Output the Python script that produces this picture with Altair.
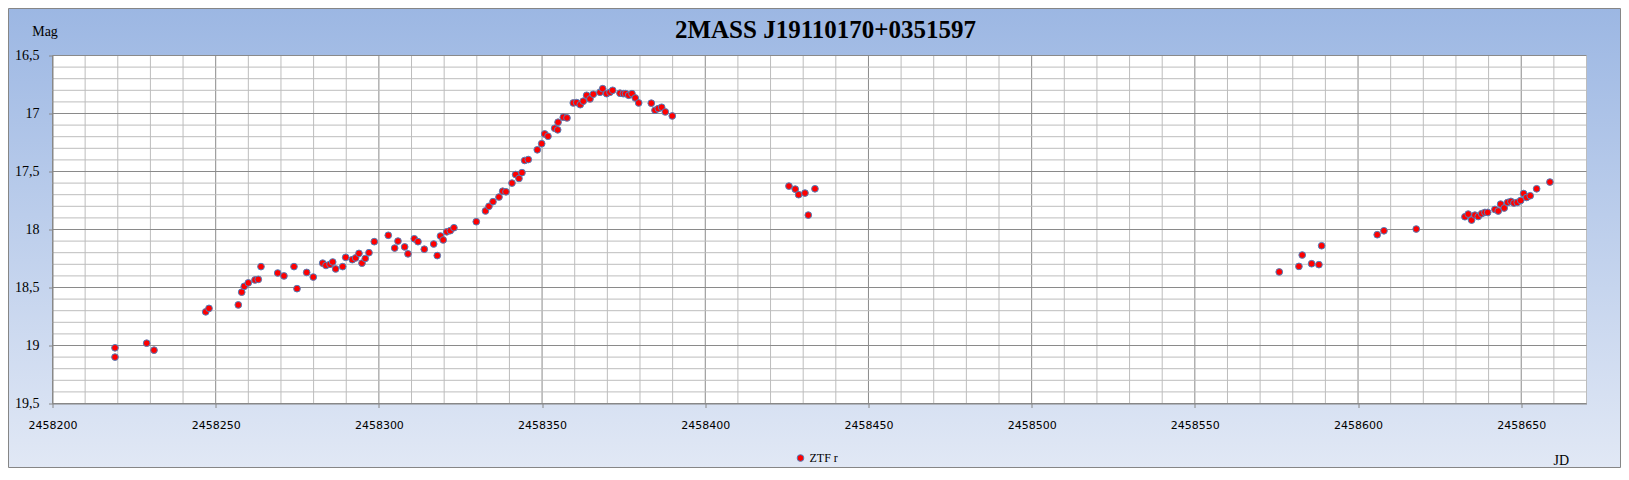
import altair as alt
import pandas as pd

TITLE = "2MASS J19110170+0351597"
SERIES = "ZTF r"
Y_TITLE = "Mag"
X_TITLE = "JD"

JD = [
    2458219.15, 2458219.15, 2458228.86, 2458231.10, 2458246.94, 2458247.95,
    2458256.92, 2458257.97, 2458258.76, 2458259.99, 2458262.04, 2458263.05,
    2458263.88, 2458269.00, 2458270.92, 2458273.99, 2458274.91, 2458277.88,
    2458279.90, 2458282.78, 2458283.79, 2458285.02, 2458285.85, 2458286.76,
    2458288.91, 2458289.83, 2458291.85, 2458292.89, 2458293.90, 2458294.82,
    2458295.83, 2458296.97, 2458298.59, 2458302.88, 2458304.84, 2458305.85,
    2458307.90, 2458308.92, 2458310.85, 2458311.98, 2458313.91, 2458316.79,
    2458317.89, 2458318.87, 2458319.70, 2458320.80, 2458321.88, 2458323.00,
    2458329.84, 2458332.66, 2458333.73, 2458334.96, 2458336.80, 2458337.93,
    2458338.94, 2458340.78, 2458341.91, 2458342.92, 2458343.84, 2458344.67,
    2458345.77, 2458348.53, 2458349.88, 2458350.80, 2458351.81, 2458353.86,
    2458354.78, 2458354.90, 2458356.50, 2458357.63, 2458359.56, 2458360.60,
    2458361.70, 2458362.62, 2458363.66, 2458364.68, 2458365.69, 2458367.74,
    2458368.57, 2458369.79, 2458370.80, 2458371.63, 2458373.87, 2458374.88,
    2458375.61, 2458376.53, 2458377.54, 2458378.55, 2458379.60, 2458383.46,
    2458384.59, 2458385.60, 2458386.64, 2458387.75, 2458389.89,
    2458425.64, 2458427.57, 2458428.61, 2458430.55, 2458433.61, 2458431.56,
    2458575.86, 2458581.89, 2458582.90, 2458585.78, 2458588.02, 2458588.85,
    2458605.88, 2458607.94, 2458617.83,
    2458632.75, 2458633.76, 2458634.80, 2458635.81, 2458636.83, 2458637.87,
    2458638.88, 2458639.71, 2458641.94, 2458642.95, 2458643.69, 2458644.79,
    2458645.83, 2458646.84, 2458647.76, 2458648.77, 2458649.82, 2458650.74,
    2458651.65, 2458652.76, 2458654.72, 2458658.79,
]
MAG = [
    19.02, 19.10, 18.98, 19.04, 18.71, 18.68,
    18.65, 18.54, 18.49, 18.46, 18.435, 18.43,
    18.32, 18.375, 18.40, 18.32, 18.51, 18.37,
    18.41, 18.29, 18.31, 18.30, 18.28, 18.34,
    18.32, 18.24, 18.26, 18.245, 18.206, 18.29,
    18.25, 18.20, 18.105, 18.05, 18.16, 18.10,
    18.15, 18.21, 18.08, 18.105, 18.17, 18.125,
    18.225, 18.056, 18.09, 18.02, 18.01, 17.985,
    17.933, 17.84, 17.80, 17.76, 17.72, 17.67,
    17.675, 17.60, 17.526, 17.56, 17.51, 17.405,
    17.397, 17.313, 17.26, 17.176, 17.196, 17.127,
    17.141, 17.075, 17.032, 17.038, 16.909, 16.906,
    16.924, 16.894, 16.843, 16.874, 16.834, 16.817,
    16.786, 16.829, 16.817, 16.80, 16.825, 16.829,
    16.829, 16.843, 16.829, 16.866, 16.909, 16.911,
    16.972, 16.958, 16.946, 16.986, 17.021,
    17.626, 17.652, 17.70, 17.686, 17.649, 17.876,
    18.366, 18.318, 18.22, 18.295, 18.303, 18.14,
    18.045, 18.011, 17.996,
    17.89, 17.867, 17.919, 17.876, 17.888, 17.864,
    17.853, 17.853, 17.827, 17.841, 17.781, 17.815,
    17.767, 17.758, 17.772, 17.767, 17.75, 17.69,
    17.724, 17.709, 17.649, 17.591,
]

X_MINOR = list(range(2458200, 2458671, 10))
X_MAJOR = list(range(2458200, 2458651, 50))
Y_MINOR = [round(16.5 + 0.1 * i, 1) for i in range(31)]
Y_MAJOR = [16.5, 17.0, 17.5, 18.0, 18.5, 19.0, 19.5]

W, H = 1534, 348
PAD = {"left": 44.5, "top": 47.5, "right": 34.5, "bottom": 64.5}

xscale = alt.Scale(domain=[2458200, 2458670], nice=False, zero=False)
yscale = alt.Scale(domain=[16.5, 19.5], reverse=True, nice=False, zero=False)

xaxis = alt.Axis(
    values=X_MAJOR, grid=False, format="d", zindex=1,
    domainColor="#868686", tickColor="#868686", tickSize=4,
    labelFont="DejaVu Sans", labelFontSize=11, labelColor="#000000",
    labelBaseline="alphabetic", labelPadding=20.8, labelOverlap=False, labelFlush=False,
    title=X_TITLE, titleFont="Liberation Serif", titleFontSize=14, titleFontWeight="normal",
    titleColor="#000000", titleAlign="left", titleBaseline="alphabetic", titleAnchor="start",
    titleX=1500.5, titleY=60.5,
)
yaxis = alt.Axis(
    values=Y_MAJOR, grid=False, zindex=1,
    labelExpr="replace(format(datum.value, '~g'), '.', ',')",
    domainColor="#868686", tickColor="#868686", tickSize=4,
    labelFont="Liberation Serif", labelFontSize=14, labelColor="#000000",
    labelPadding=9.5, labelOverlap=False, labelFlush=False,
    title=Y_TITLE, titleFont="Liberation Serif", titleFontSize=14, titleFontWeight="normal",
    titleColor="#000000", titleAngle=0, titleAlign="left", titleBaseline="alphabetic",
    titleX=-20.8, titleY=-20.5,
)

one = pd.DataFrame({"a": [0]})

bg = alt.Chart(one).mark_rect(
    fill=alt.Gradient(
        gradient="linear", x1=0, x2=0, y1=0, y2=1,
        stops=[alt.GradientStop(color="#9CB7E3", offset=0),
               alt.GradientStop(color="#E1E8F5", offset=1)],
    ),
    stroke="#868686", strokeWidth=1,
).encode(
    x=alt.value(-PAD["left"] + 0.5), x2=alt.value(W + PAD["right"] - 0.5),
    y=alt.value(-PAD["top"] + 0.5), y2=alt.value(H + PAD["bottom"] - 0.5),
)

plot_bg = alt.Chart(one).mark_rect(fill="white").encode(
    x=alt.value(0), x2=alt.value(W), y=alt.value(0), y2=alt.value(H)
)

xg_minor = alt.Chart(pd.DataFrame({"JD": [v for v in X_MINOR if v % 50]})).mark_rule(
    color="#BDBDBD", strokeWidth=1
).encode(x=alt.X("JD:Q", scale=xscale, axis=xaxis))
xg_major = alt.Chart(pd.DataFrame({"JD": X_MAJOR})).mark_rule(
    color="#8A8A8A", strokeWidth=1
).encode(x=alt.X("JD:Q", scale=xscale, axis=xaxis))
yg_minor = alt.Chart(pd.DataFrame({"Mag": [v for v in Y_MINOR if v not in Y_MAJOR]})).mark_rule(
    color="#BDBDBD", strokeWidth=1
).encode(y=alt.Y("Mag:Q", scale=yscale, axis=yaxis))
yg_major = alt.Chart(pd.DataFrame({"Mag": Y_MAJOR})).mark_rule(
    color="#8A8A8A", strokeWidth=1
).encode(y=alt.Y("Mag:Q", scale=yscale, axis=yaxis))

df = pd.DataFrame({"JD": JD, "Mag": MAG, "Band": [SERIES] * len(JD)})

pts = alt.Chart(df).mark_point(
    filled=True, shape="circle", size=45, stroke="#4F81BD", strokeWidth=1, opacity=1
).encode(
    x=alt.X("JD:Q", scale=xscale, axis=xaxis),
    y=alt.Y("Mag:Q", scale=yscale, axis=yaxis),
    color=alt.Color("Band:N", scale=alt.Scale(domain=[SERIES], range=["#FF0000"]),
                    legend=alt.Legend(
                        title=None, orient="none", legendX=742, legendY=396.5,
                        direction="horizontal", symbolType="circle", symbolSize=45,
                        symbolStrokeColor="#4F81BD", symbolStrokeWidth=1,
                        labelFont="Liberation Serif", labelFontSize=12, labelColor="#000000",
                        labelOffset=3, padding=0,
                    )),
)

ttl = alt.Chart(pd.DataFrame({"t": [TITLE]})).mark_text(
    font="Liberation Serif", fontSize=25, fontWeight="bold", align="center",
    baseline="alphabetic", color="#000000",
).encode(text="t:N", x=alt.value(773), y=alt.value(-17.8))

chart = alt.layer(bg, plot_bg, xg_minor, xg_major, yg_minor, yg_major, pts, ttl).properties(
    width=W, height=H, padding=PAD, autosize=alt.AutoSizeParams(type="none"),
).configure_view(stroke=None)

chart.save("out.html", embed_options={"renderer": "svg", "actions": False})
